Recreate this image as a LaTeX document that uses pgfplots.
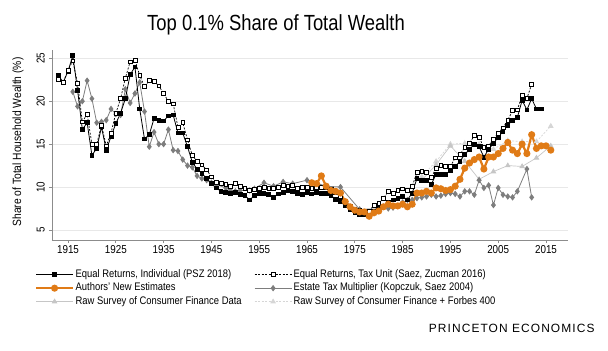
\documentclass[border=0pt]{standalone}
\usepackage{fontspec}
\setmainfont[FakeStretch=0.86]{Liberation Sans}
\newfontfamily\titlefont[FakeStretch=0.84]{Liberation Sans}
\newfontfamily\footfont[LetterSpace=9]{Liberation Sans}
\usepackage{pgfplots}
\pgfplotsset{compat=1.18}
\definecolor{orng}{RGB}{224,123,22}
\definecolor{estg}{RGB}{125,125,125}
\definecolor{scfg}{RGB}{198,198,198}
\definecolor{forg}{RGB}{214,214,214}
\definecolor{axg}{RGB}{140,140,140}
\pgfplotsset{
 psz/.style={black, line width=0.8bp, mark=square*, mark size=1.9bp, mark options={solid, fill=black}},
 szu/.style={black, line width=0.7bp, dash pattern=on 2bp off 1.5bp, mark=square*, mark size=1.9bp, mark options={solid, fill=white, draw=black, line width=0.6bp}},
 auth/.style={orng, line width=2.2bp, mark=*, mark size=2.4bp, mark options={solid, fill=orng}},
 est/.style={estg, line width=0.8bp, mark=diamond*, mark size=2.6bp, mark options={solid, fill=estg}},
 scf/.style={scfg, line width=0.7bp, mark=triangle*, mark size=2.6bp, mark options={solid, fill=scfg}},
 forb/.style={forg, line width=0.7bp, dash pattern=on 2bp off 1.5bp, mark=triangle*, mark size=2.6bp, mark options={solid, fill=forg}},
}
\begin{document}
\begin{tikzpicture}
\path[use as bounding box] (0,0) rectangle (608bp,351bp);
\begin{axis}[
 at={(52bp,111bp)}, anchor=south west,
 scale only axis, width=516bp, height=190bp,
 xmin=1911.65, xmax=2019.6, ymin=3.83, ymax=25.97,
 axis x line*=bottom, axis y line*=left,
 axis line style={axg, line width=0.8bp},
 xtick={1915,1925,...,2015}, ytick={5,10,...,25},
 scaled x ticks=false,
 tick align=outside, major tick length=3bp,
 tick style={axg, line width=0.7bp},
 ymajorgrids, grid style={black!9, line width=0.6bp},
 /pgf/number format/assume math mode=true,
 /pgf/number format/1000 sep={},
 ticklabel style={font=\fontsize{11.5}{13}\selectfont},
 yticklabel style={rotate=90, anchor=south, inner sep=4bp},
 xticklabel style={inner sep=2.5bp},
 legend columns=2,
 legend cell align=left,
 legend style={at={(axis description cs:-0.033,-0.147)}, anchor=north west,
   draw=none, fill=none, inner sep=0pt, outer sep=0pt,
   font=\fontsize{11}{13}\selectfont, row sep=0pt,
   nodes={inner sep=1.5bp, text height=8bp, text depth=2.5bp},
   /tikz/column 2/.style={column sep=11bp}},
 legend image code/.code={\draw[mark repeat=2,mark phase=2,#1] plot coordinates {(0bp,0bp)(18.5bp,0bp)(37bp,0bp)};},
]
% Raw SCF + Forbes
\addplot[forb, forget plot] coordinates {
(1989,11.2)(1992,13.0)(1995,15.0)(1998,15.1)(2001,15.0)(2004,14.4)(2007,15.4)(2010,15.3)(2013,15.3)(2016,17.1)};
% Raw SCF
\addplot[scf, forget plot] coordinates {
(1989,10.8)(1992,12.6)(1995,14.8)(1998,13.0)(2001,10.9)(2004,11.8)(2007,12.5)(2010,12.4)(2013,13.4)(2016,14.8)};
% Estate tax multiplier
\addplot[est, forget plot] coordinates {
(1916,21.1)(1917,19.4)(1918,20.0)(1919,22.4)(1920,20.3)(1921,17.5)(1922,17.6)(1923,17.8)(1924,19.1)(1925,18.5)
(1926,18.4)(1927,21.4)(1928,19.8)(1929,20.9)(1930,22.2)(1931,18.8)(1932,14.7)(1933,16.4)(1934,15.0)(1935,15.0)
(1936,16.7)(1937,14.3)(1938,14.2)(1939,13.2)(1940,12.5)(1941,12.3)(1942,11.3)(1943,11.0)(1944,10.8)(1945,10.5)
(1946,10.3)(1948,9.9)(1949,9.6)(1950,9.5)(1951,9.6)(1953,9.6)(1954,9.8)(1956,10.5)(1958,10.1)(1960,10.6)
(1962,10.4)(1965,10.8)(1969,10.1)(1972,10.0)(1976,7.4)(1982,7.5)(1983,7.6)(1984,7.8)(1985,8.2)(1986,8.5)
(1987,8.5)(1988,8.7)(1989,8.8)(1990,8.9)(1991,9.1)(1992,8.9)(1993,9.0)(1994,9.2)(1995,9.3)(1996,9.2)
(1997,8.9)(1998,9.5)(1999,9.5)(2000,9.1)(2001,10.8)(2002,9.9)(2003,10.2)(2004,7.9)(2005,9.9)(2006,9.1)
(2007,8.9)(2008,8.8)(2009,9.5)(2011,12.1)(2012,8.8)};
% PSZ individual
\addplot[psz, forget plot] coordinates {
(1913,23.0)(1914,22.2)(1915,23.5)(1916,25.3)(1917,21.3)(1918,16.7)(1919,17.5)(1920,13.7)(1921,14.5)(1922,17.0)
(1923,14.3)(1924,15.9)(1925,17.4)(1926,18.6)(1927,20.3)(1928,23.1)(1929,24.0)(1930,19.1)(1931,15.6)(1932,16.1)
(1933,18.0)(1934,17.8)(1935,17.7)(1936,18.3)(1937,18.4)(1938,16.3)(1939,16.3)(1940,14.7)(1941,12.9)(1942,12.1)
(1943,11.6)(1944,11.0)(1945,10.4)(1946,9.9)(1947,9.5)(1948,9.4)(1949,9.3)(1950,9.4)(1951,9.1)(1952,9.0)
(1953,8.5)(1954,9.0)(1955,9.3)(1956,9.3)(1957,9.1)(1958,8.8)(1959,9.2)(1960,9.4)(1961,9.6)(1962,9.5)
(1963,9.3)(1964,9.1)(1965,9.4)(1966,9.2)(1967,9.4)(1968,9.3)(1969,9.3)(1970,9.0)(1971,8.6)(1972,8.3)
(1973,7.8)(1974,7.4)(1975,7.0)(1976,6.8)(1977,6.8)(1978,6.7)(1979,7.2)(1980,7.5)(1981,7.7)(1982,8.2)
(1983,8.5)(1984,8.7)(1985,8.9)(1986,8.5)(1987,9.3)(1988,11.0)(1989,10.8)(1990,10.8)(1991,10.3)(1992,11.5)
(1993,11.5)(1994,11.5)(1995,11.9)(1996,12.4)(1997,13.0)(1998,13.8)(1999,14.4)(2000,15.0)(2001,14.7)(2002,13.5)
(2003,14.4)(2004,15.1)(2005,15.8)(2006,16.5)(2007,17.2)(2008,17.8)(2009,18.1)(2010,20.1)(2011,19.0)(2012,20.3)
(2013,19.1)(2014,19.1)};
% SZ tax unit
\addplot[szu, forget plot] coordinates {
(1913,22.6)(1914,22.2)(1915,23.6)(1916,24.7)(1917,22.1)(1918,17.6)(1919,18.5)(1920,15.0)(1921,15.0)(1922,17.2)
(1923,14.8)(1924,16.3)(1925,18.6)(1926,20.3)(1927,22.7)(1928,24.6)(1929,24.8)(1930,23.0)(1931,21.7)(1932,22.4)
(1933,22.3)(1934,21.8)(1935,20.9)(1936,20.0)(1937,19.7)(1938,17.0)(1939,17.5)(1940,15.5)(1941,13.7)(1942,13.0)
(1943,12.6)(1944,12.0)(1945,11.2)(1946,10.6)(1947,10.4)(1948,10.3)(1949,10.1)(1950,10.4)(1951,10.1)(1952,9.9)
(1953,9.6)(1954,9.7)(1955,9.9)(1956,10.0)(1957,9.9)(1958,9.9)(1959,10.0)(1960,10.2)(1961,10.1)(1962,10.2)
(1963,9.9)(1964,10.0)(1965,10.0)(1966,9.9)(1967,10.0)(1968,10.0)(1969,10.0)(1970,9.8)(1971,9.4)(1972,8.9)
(1973,8.4)(1974,7.8)(1975,7.4)(1976,7.3)(1977,7.2)(1978,7.2)(1979,7.9)(1980,8.1)(1981,8.7)(1982,9.5)
(1983,9.3)(1984,9.6)(1985,9.8)(1986,9.6)(1987,10.1)(1988,11.7)(1989,11.8)(1990,11.7)(1991,11.1)(1992,12.2)
(1993,12.5)(1994,12.4)(1995,12.4)(1996,13.4)(1997,13.8)(1998,14.6)(1999,15.1)(2000,16.0)(2001,15.8)(2002,14.6)
(2003,14.8)(2004,15.6)(2005,16.3)(2006,16.9)(2007,17.8)(2008,18.9)(2009,19.0)(2010,20.7)(2011,20.3)(2012,22.0)};
% Authors' new estimates
\addplot[auth, forget plot] coordinates {
(1966,10.5)(1967,10.4)(1968,11.3)(1969,10.1)(1970,9.6)(1971,9.5)(1972,9.3)(1973,8.3)(1974,7.7)(1975,7.3)
(1976,7.1)(1977,7.1)(1978,6.6)(1979,7.0)(1980,7.2)(1981,7.7)(1982,8.0)(1983,7.8)(1984,7.8)(1985,8.0)
(1986,7.7)(1987,8.0)(1988,9.3)(1989,9.3)(1990,9.5)(1991,9.3)(1992,9.9)(1993,9.8)(1994,9.6)(1995,9.7)
(1996,10.1)(1997,10.9)(1998,12.2)(1999,12.8)(2000,13.2)(2001,13.5)(2002,12.1)(2003,13.5)(2004,13.5)(2005,13.9)
(2006,14.5)(2007,15.2)(2008,14.3)(2009,13.9)(2010,15.0)(2011,13.9)(2012,16.1)(2013,14.5)(2014,14.8)(2015,14.8)
(2016,14.3)};
\addlegendimage{psz}\addlegendentry{Equal Returns, Individual (PSZ 2018)}
\addlegendimage{szu}\addlegendentry{Equal Returns, Tax Unit (Saez, Zucman 2016)}
\addlegendimage{auth}\addlegendentry{Authors' New Estimates}
\addlegendimage{est}\addlegendentry{Estate Tax Multiplier (Kopczuk, Saez 2004)}
\addlegendimage{scf}\addlegendentry{Raw Survey of Consumer Finance Data}
\addlegendimage{forb}\addlegendentry{Raw Survey of Consumer Finance + Forbes 400}
\end{axis}
\node[anchor=base, font=\titlefont\fontsize{22}{26}\selectfont] at (276bp,320bp) {Top 0.1\% Share of Total Wealth};
\node[rotate=90, font=\fontsize{12}{14}\selectfont] at (18bp,209bp) {Share of Total Household Wealth (\%)};
\node[anchor=base east, font=\footfont\fontsize{12}{14}\selectfont] at (598bp,19bp) {PRINCETON ECONOMICS};
\end{tikzpicture}
\end{document}
